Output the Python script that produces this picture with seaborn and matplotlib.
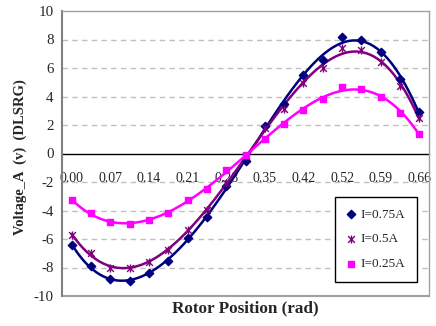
import numpy as np
import matplotlib
matplotlib.use("Agg")
import matplotlib.pyplot as plt
from matplotlib.path import Path
import seaborn as sns

# ---- data ----
position_index = list(range(19))
tick_labels = ["0.00", "0.07", "0.14", "0.21", "0.28", "0.35", "0.42", "0.52", "0.59", "0.66"]
v_075 = [-6.43, -7.88, -8.81, -8.97, -8.41, -7.55, -5.90, -4.43, -2.28, -0.54,
         1.91, 3.50, 5.52, 6.57, 8.20, 7.97, 7.15, 5.22, 2.89]
v_050 = [-5.73, -6.95, -8.00, -8.07, -7.60, -6.75, -5.36, -3.96, -2.05, -0.19,
         1.80, 3.12, 4.94, 5.99, 7.39, 7.23, 6.45, 4.71, 2.50]
v_025 = [-3.27, -4.17, -4.80, -4.92, -4.66, -4.20, -3.26, -2.47, -1.17, -0.12,
         1.05, 2.07, 3.08, 3.82, 4.64, 4.52, 4.00, 2.85, 1.38]
series_labels = ["I=0.75A", "I=0.5A", "I=0.25A"]

sns.set_style("white")
plt.rcParams["font.family"] = ["Liberation Serif", "DejaVu Serif"]

fig = plt.figure(figsize=(4.36, 3.26), dpi=100)
ax = fig.add_axes([62 / 436, 1 - 296 / 326, (429 - 62) / 436, (296 - 11) / 326])

star = Path([(-1, -1), (1, 1), (-1, 1), (1, -1), (0, -1.2), (0, 1.2)],
            [Path.MOVETO, Path.LINETO, Path.MOVETO, Path.LINETO, Path.MOVETO, Path.LINETO])

x = np.array(position_index, dtype=float)
specs = [
    (v_075, "#000080", "D", 18, series_labels[0]),
    (v_050, "#800080", star, 34, series_labels[1]),
    (v_025, "#FF00FF", "s", 24, series_labels[2]),
]

# dashed grid
for gy in [-8, -6, -4, -2, 2, 4, 6, 8]:
    ax.axhline(gy, color="#c0c0c0", lw=1.0, ls=(0, (4, 3)), zorder=0)

for vals, col, mk, sz, lab in specs:
    sns.regplot(x=x, y=np.array(vals), order=6, ci=None, scatter=False, ax=ax,
                line_kws=dict(color=col, lw=1.8, zorder=3))
    sns.scatterplot(x=x, y=vals, marker=mk, s=sz, color=col, edgecolor=col,
                    linewidth=1.0, ax=ax, label=lab, zorder=4)

ax.set_xlim(-0.5, 18.5)
ax.set_ylim(-10, 10)
ax.set_yticks(np.arange(-10, 11, 2))
ax.set_yticklabels([str(v) for v in range(-10, 11, 2)], fontsize=10.8)
ax.set_xticks(position_index[::2])
ax.set_xticklabels(tick_labels, fontsize=10.6)
ax.set_xticks(np.arange(-0.5, 19, 1), minor=True)
ax.tick_params(axis="x", which="major", length=0, pad=13)
ax.tick_params(axis="x", which="minor", length=4, direction="out", color="black", width=1)
ax.tick_params(axis="y", which="major", length=4, direction="out", color="#808080", width=1, pad=2)

ax.spines["bottom"].set_position(("data", 0))
ax.spines["bottom"].set_color("black")
ax.spines["bottom"].set_linewidth(1.0)
ax.spines["bottom"].set_zorder(2)
ax.spines["left"].set_color("#808080")
ax.spines["left"].set_linewidth(1.5)
for s in ["top", "right"]:
    ax.spines[s].set_color("#a0a0a0")
    ax.spines[s].set_linewidth(1.0)
ax.axhline(-10, color="#a0a0a0", lw=1.5, clip_on=False, zorder=1)

ax.set_xlabel("")
ax.set_ylabel("")
fig.text((62 + 429) / 2 / 436, 1 - 308 / 326, "Rotor Position (rad)",
         ha="center", va="center", fontsize=12.3, fontweight="bold")
fig.text(20 / 436, 1 - 157 / 326, "Voltage_A  (v)  (DLSRG)", rotation=90,
         ha="center", va="center", fontsize=10.5, fontweight="bold")

leg = ax.legend(loc="lower right", bbox_to_anchor=(0.967, 0.049), frameon=True,
                fancybox=False, edgecolor="black", framealpha=1, fontsize=9.5,
                handlelength=0.6, handletextpad=0.4, labelspacing=0.95,
                borderpad=0.9, borderaxespad=0)
leg.get_frame().set_linewidth(1.0)

fig.savefig("out.png", dpi=100)
